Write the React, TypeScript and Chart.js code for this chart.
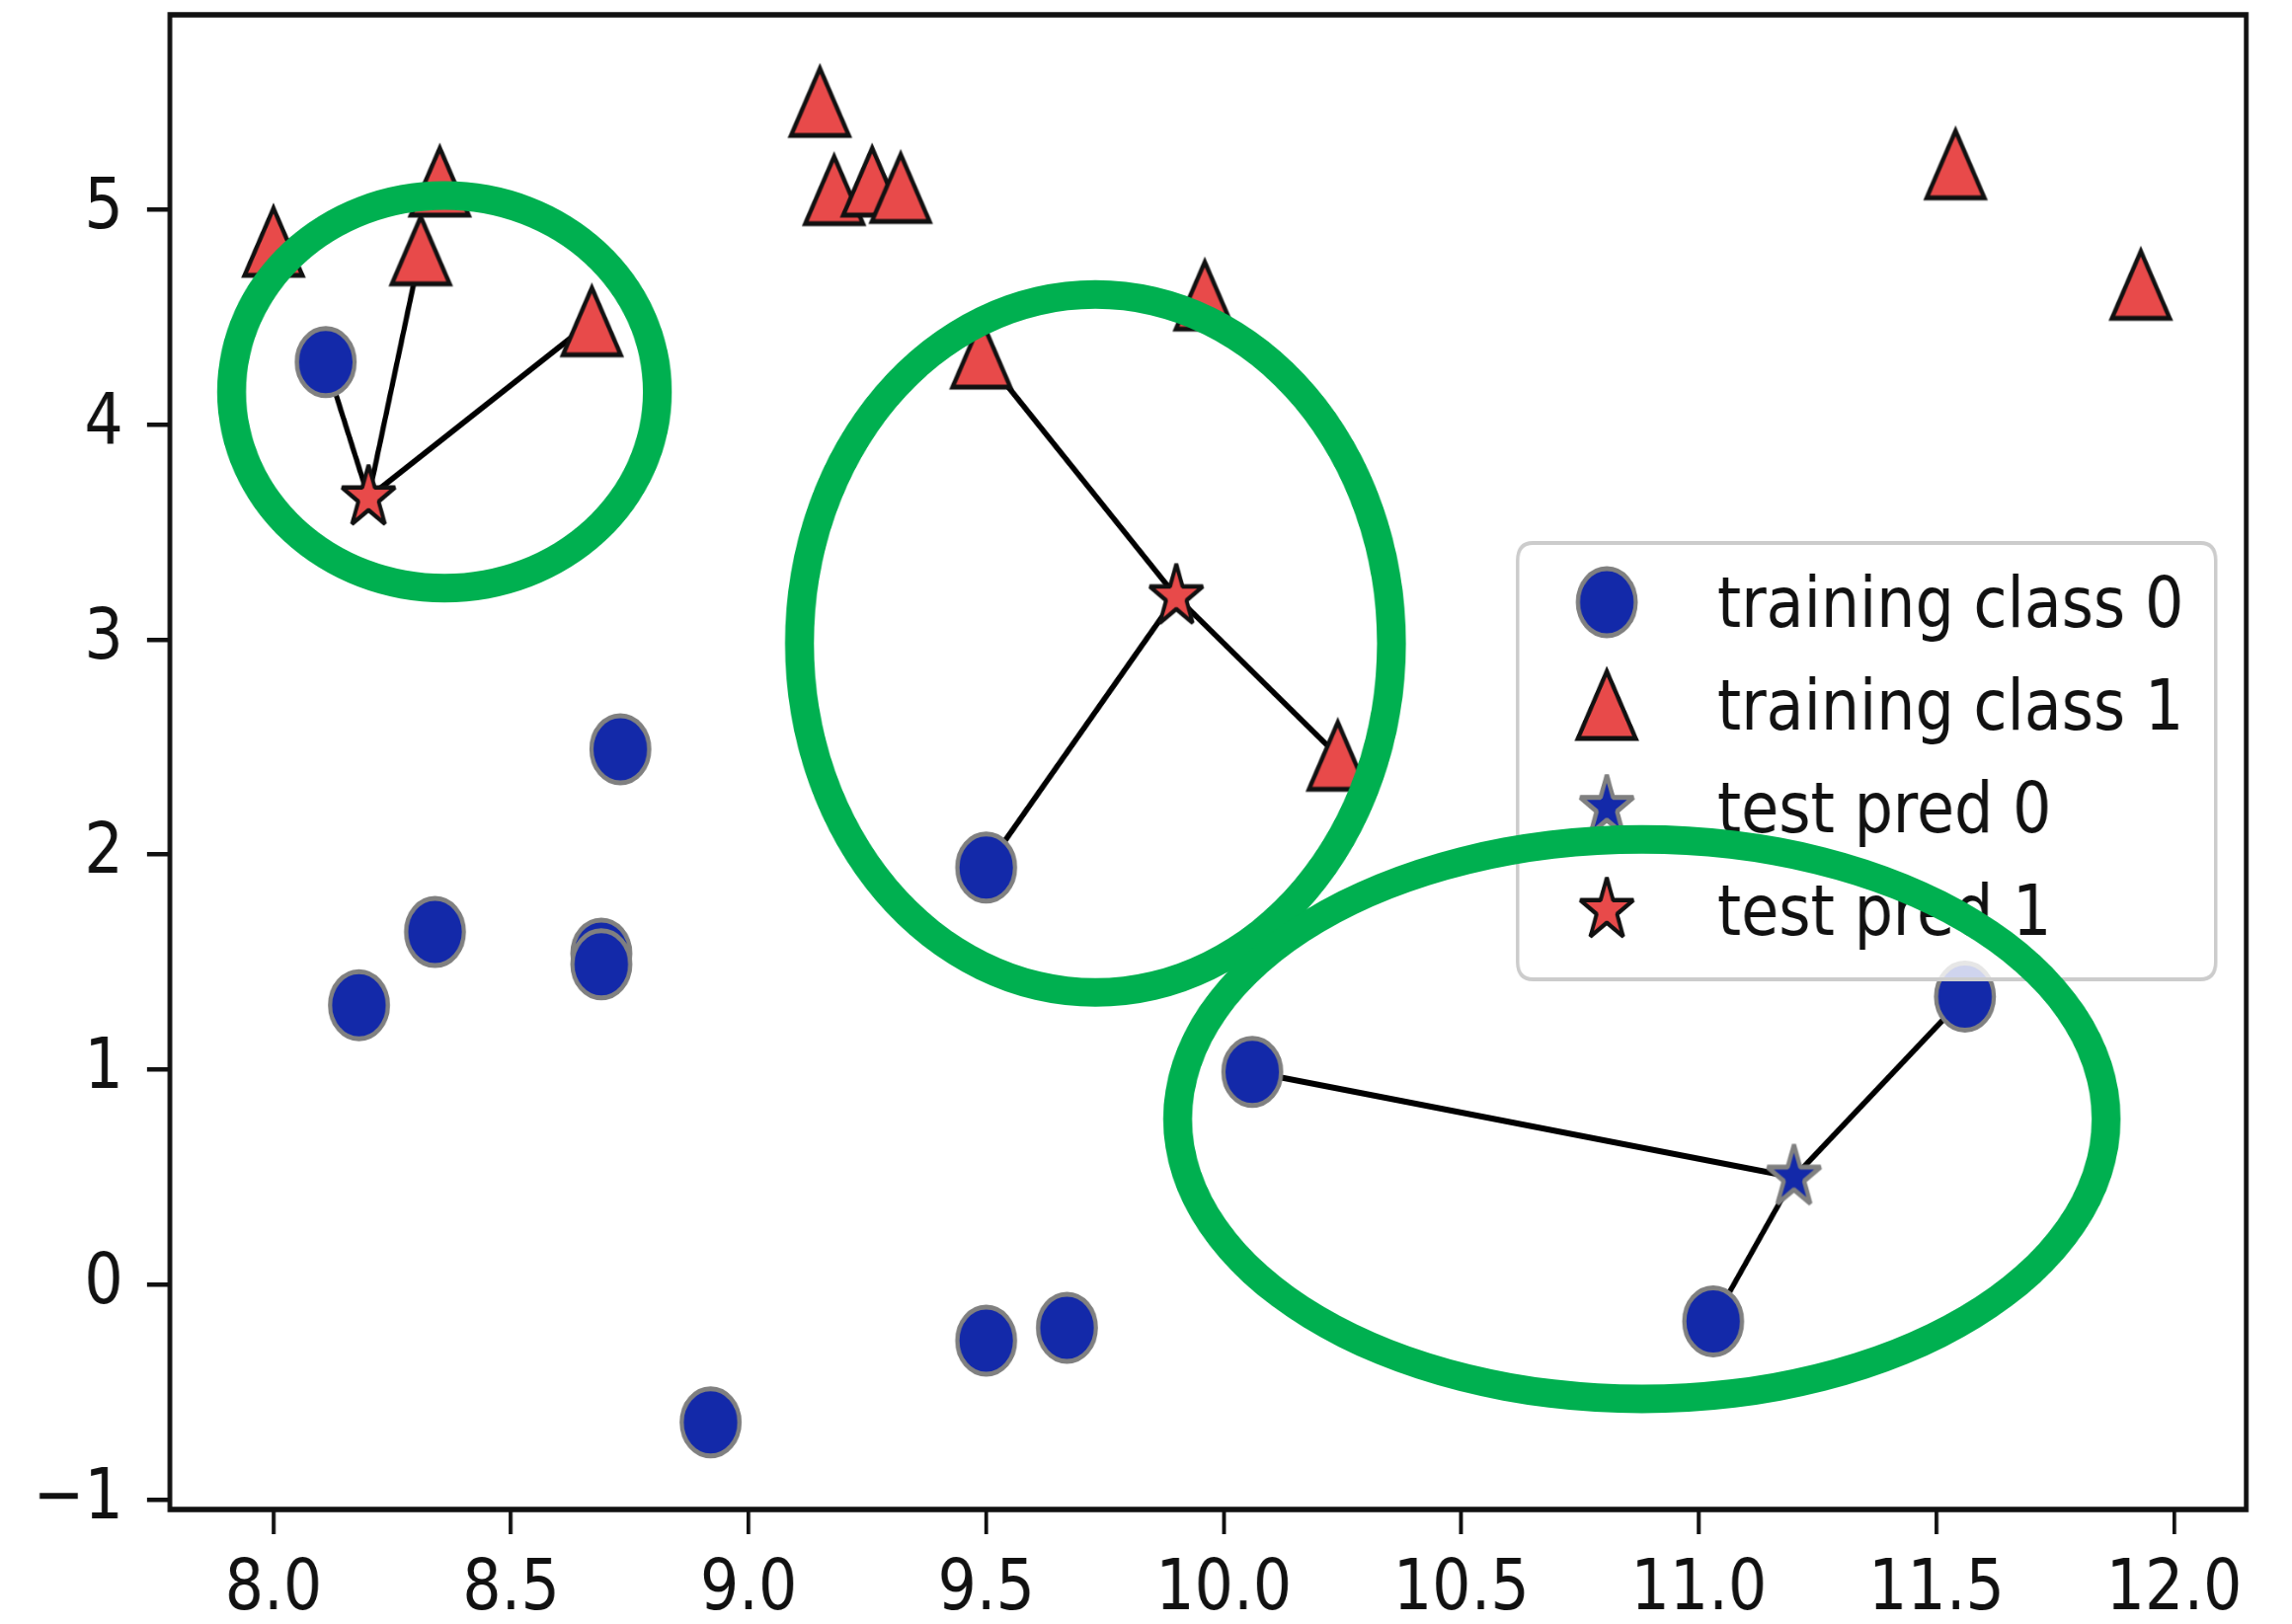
import React, { useEffect, useRef } from 'react';
import { Chart, registerables } from 'chart.js';

Chart.register(...registerables);

// ---------- data ----------
const class0X = [11.03, 8.69, 8.11, 9.67, 8.69, 8.92, 8.18, 8.73, 10.06, 9.50, 8.34, 9.50, 11.56];
const class0Y = [-0.17, 1.54, 4.29, -0.20, 1.49, -0.64, 1.30, 2.49, 0.99, -0.26, 1.64, 1.94, 1.34];
const class1X = [9.96, 11.54, 8.31, 11.93, 8.35, 8.67, 9.18, 10.24, 9.49, 9.26, 8.00, 9.32, 9.15];
const class1Y = [4.60, 5.21, 4.81, 4.65, 5.13, 4.48, 5.09, 2.46, 4.33, 5.13, 4.85, 5.10, 5.50];
const testX = [8.2, 9.9, 11.2];
const testY = [3.66, 3.2, 0.5];
const nNeighbors = 3;

const seriesLabels = ['training class 0', 'training class 1', 'test pred 0', 'test pred 1'];

const xTicks = [8.0, 8.5, 9.0, 9.5, 10.0, 10.5, 11.0, 11.5, 12.0];
const yTicks = [-1, 0, 1, 2, 3, 4, 5];
const xRange = [7.782, 12.152];
const yRange = [-1.045, 5.905];

// green annotation rings (centre and radii in data units)
const ringCX = [8.36, 9.73, 10.88];
const ringCY = [4.152, 2.982, 0.77];
const ringRX = [0.448, 0.623, 0.977];
const ringRY = [0.913, 1.623, 1.301];

// ---------- styling ----------
const SX = 0.86; // horizontal squeeze of the reference
const OUT_W = 2321;
const OUT_H = 1645;
const W = Math.round(OUT_W / SX);
const H = OUT_H;
const FONT = '"DejaVu Sans", "Noto Sans", sans-serif';
const BLUE = '#1329a9';
const RED = '#e84a4a';
const GREY = '#808080';
const INK = '#111111';
const GREEN = '#00b050';

function makeTriangle(fill: string, edge: string, a: number, lw: number) {
  const half = Math.ceil(a + 3 * lw);
  const c = document.createElement('canvas');
  c.width = c.height = half * 2;
  const g = c.getContext('2d')!;
  const m = half;
  g.beginPath();
  g.moveTo(m, m - a);
  g.lineTo(m - a, m + a);
  g.lineTo(m + a, m + a);
  g.closePath();
  g.fillStyle = fill;
  g.fill();
  g.lineJoin = 'miter';
  g.lineWidth = lw;
  g.strokeStyle = edge;
  g.stroke();
  return c;
}

function makeStar(fill: string, edge: string, R: number, lw: number) {
  const half = Math.ceil(R + 3 * lw);
  const c = document.createElement('canvas');
  c.width = c.height = half * 2;
  const g = c.getContext('2d')!;
  const m = half;
  g.beginPath();
  for (let i = 0; i < 10; i++) {
    const ang = -Math.PI / 2 + (i * Math.PI) / 5;
    const r = i % 2 === 0 ? R : R * 0.381966;
    const px = m + Math.cos(ang) * r;
    const py = m + Math.sin(ang) * r;
    if (i === 0) g.moveTo(px, py);
    else g.lineTo(px, py);
  }
  g.closePath();
  g.fillStyle = fill;
  g.fill();
  g.lineJoin = 'bevel';
  g.lineWidth = lw;
  g.strokeStyle = edge;
  g.stroke();
  return c;
}

export default function App() {
  const ref = useRef<HTMLCanvasElement | null>(null);

  useEffect(() => {
    document.body.style.margin = '0';
    document.body.style.overflow = 'hidden';
    const canvas = ref.current;
    if (!canvas) return;

    const triImg = makeTriangle(RED, INK, 34, 5);
    const starRed = makeStar(RED, INK, 33, 4.5);
    const starBlue = makeStar(BLUE, GREY, 33, 5);

    // training set and k nearest neighbours
    const train = [
      ...class0X.map((x, i) => ({ x, y: class0Y[i], c: 0 })),
      ...class1X.map((x, i) => ({ x, y: class1Y[i], c: 1 })),
    ];
    const segs: any[] = [];
    const pred0: { x: number; y: number }[] = [];
    const pred1: { x: number; y: number }[] = [];
    testX.forEach((tx, i) => {
      const ty = testY[i];
      const near = train
        .map((p) => ({ p, d: Math.hypot(p.x - tx, p.y - ty) }))
        .sort((a, b) => a.d - b.d)
        .slice(0, nNeighbors);
      near.forEach(({ p }) => segs.push([{ x: tx, y: ty }, { x: p.x, y: p.y }]));
      const votes = near.reduce((s, n) => s + n.p.c, 0);
      (votes * 2 > nNeighbors ? pred1 : pred0).push({ x: tx, y: ty });
    });

    const datasets: any[] = [
      {
        type: 'scatter',
        label: seriesLabels[0],
        data: class0X.map((x, i) => ({ x, y: class0Y[i] })),
        pointStyle: 'circle',
        pointRadius: 34,
        pointHoverRadius: 34,
        backgroundColor: BLUE,
        borderColor: GREY,
        borderWidth: 5,
        order: 4,
      },
      {
        type: 'scatter',
        label: seriesLabels[1],
        data: class1X.map((x, i) => ({ x, y: class1Y[i] })),
        pointStyle: triImg,
        pointRadius: 36,
        order: 3,
      },
      {
        type: 'scatter',
        label: seriesLabels[2],
        data: pred0,
        pointStyle: starBlue,
        pointRadius: 36,
        order: 2,
      },
      {
        type: 'scatter',
        label: seriesLabels[3],
        data: pred1,
        pointStyle: starRed,
        pointRadius: 36,
        order: 1,
      },
      ...segs.map((s) => ({
        type: 'line',
        label: '_nolegend_',
        data: s,
        borderColor: '#000',
        borderWidth: 6,
        pointRadius: 0,
        fill: false,
        order: 10,
      })),
    ];

    const overlay = {
      id: 'overlay',
      afterDatasetsDraw(chart: any) {
        const ctx = chart.ctx as CanvasRenderingContext2D;
        const { left, top, right, bottom } = chart.chartArea;
        ctx.save();
        // spines
        ctx.strokeStyle = INK;
        ctx.lineWidth = 5.5;
        ctx.strokeRect(left, top, right - left, bottom - top);

        // legend box
        const bx0 = 1787, bx1 = 2609, by0 = 550, by1 = 992, r = 18;
        ctx.beginPath();
        ctx.moveTo(bx0 + r, by0);
        ctx.lineTo(bx1 - r, by0);
        ctx.quadraticCurveTo(bx1, by0, bx1, by0 + r);
        ctx.lineTo(bx1, by1 - r);
        ctx.quadraticCurveTo(bx1, by1, bx1 - r, by1);
        ctx.lineTo(bx0 + r, by1);
        ctx.quadraticCurveTo(bx0, by1, bx0, by1 - r);
        ctx.lineTo(bx0, by0 + r);
        ctx.quadraticCurveTo(bx0, by0, bx0 + r, by0);
        ctx.closePath();
        ctx.fillStyle = 'rgba(255,255,255,0.8)';
        ctx.fill();
        ctx.strokeStyle = '#cccccc';
        ctx.lineWidth = 4;
        ctx.stroke();

        const mx = 1892, tx = 2022, base0 = 635, step = 104;
        ctx.font = `72px ${FONT}`;
        ctx.textBaseline = 'alphabetic';
        ctx.textAlign = 'left';
        seriesLabels.forEach((lab, i) => {
          const ds = chart.data.datasets.find((d: any) => d.label === lab);
          const base = base0 + i * step;
          const my = base - 25;
          if (ds) {
            const ps = ds.pointStyle;
            if (ps === 'circle') {
              ctx.beginPath();
              ctx.arc(mx, my, 34, 0, Math.PI * 2);
              ctx.fillStyle = ds.backgroundColor;
              ctx.fill();
              ctx.lineWidth = ds.borderWidth;
              ctx.strokeStyle = ds.borderColor;
              ctx.stroke();
            } else if (ps && ps.width) {
              ctx.drawImage(ps, mx - ps.width / 2, my - ps.height / 2);
            }
          }
          ctx.fillStyle = INK;
          ctx.fillText(lab, tx, base);
        });

        // green rings
        const xs = chart.scales.x, ys = chart.scales.y;
        const hx = 17, hy = 14.5;
        ctx.fillStyle = GREEN;
        ringCX.forEach((cxv, i) => {
          const cx = xs.getPixelForValue(cxv);
          const cy = ys.getPixelForValue(ringCY[i]);
          const rx = Math.abs(xs.getPixelForValue(cxv + ringRX[i]) - cx);
          const ry = Math.abs(ys.getPixelForValue(ringCY[i] + ringRY[i]) - cy);
          ctx.beginPath();
          ctx.ellipse(cx, cy, rx + hx, ry + hy, 0, 0, Math.PI * 2);
          ctx.closePath();
          ctx.moveTo(cx + rx - hx, cy);
          ctx.ellipse(cx, cy, rx - hx, ry - hy, 0, 0, Math.PI * 2);
          ctx.closePath();
          ctx.fill('evenodd');
        });
        ctx.restore();
      },
    };

    const chart = new Chart(canvas, {
      type: 'scatter',
      data: { datasets },
      options: {
        animation: false,
        responsive: false,
        devicePixelRatio: 1,
        layout: { autoPadding: false, padding: { left: 0, top: 15, right: W - 2645, bottom: 0 } },
        plugins: { legend: { display: false }, tooltip: { enabled: false } },
        scales: {
          x: {
            type: 'linear',
            min: xRange[0],
            max: xRange[1],
            afterBuildTicks: (s: any) => {
              s.ticks = xTicks.map((v) => ({ value: v }));
            },
            afterFit: (s: any) => {
              s.height = H - 1529;
              s.paddingLeft = 0;
              s.paddingRight = 0;
            },
            border: { display: false },
            grid: {
              drawOnChartArea: false,
              drawTicks: true,
              tickLength: 25,
              tickWidth: 4.5,
              tickColor: INK,
              color: INK,
              lineWidth: 4.5,
            },
            ticks: {
              font: { family: FONT, size: 72 },
              color: INK,
              padding: 14,
              maxRotation: 0,
              autoSkip: false,
              callback: (v: any) => Number(v).toFixed(1),
            },
          },
          y: {
            type: 'linear',
            min: yRange[0],
            max: yRange[1],
            afterBuildTicks: (s: any) => {
              s.ticks = yTicks.map((v) => ({ value: v }));
            },
            afterFit: (s: any) => {
              s.width = 200;
              s.paddingTop = 0;
              s.paddingBottom = 0;
            },
            border: { display: false },
            grid: {
              drawOnChartArea: false,
              drawTicks: true,
              tickLength: 27,
              tickWidth: 4.5,
              tickColor: INK,
              color: INK,
              lineWidth: 4.5,
            },
            ticks: {
              font: { family: FONT, size: 72 },
              color: INK,
              padding: 28,
              autoSkip: false,
              callback: (v: any) => (Number(v) < 0 ? '\u2212' + Math.abs(Number(v)) : String(v)),
            },
          },
        },
      },
      plugins: [overlay],
    } as any);

    return () => chart.destroy();
  }, []);

  return (
    <div style={{ width: OUT_W, height: OUT_H, overflow: 'hidden', position: 'relative', background: '#fff' }}>
      <div style={{ width: W, height: H, transform: `scaleX(${SX})`, transformOrigin: '0 0' }}>
        <canvas ref={ref} width={W} height={H} style={{ width: W, height: H, display: 'block' }} />
      </div>
    </div>
  );
}
